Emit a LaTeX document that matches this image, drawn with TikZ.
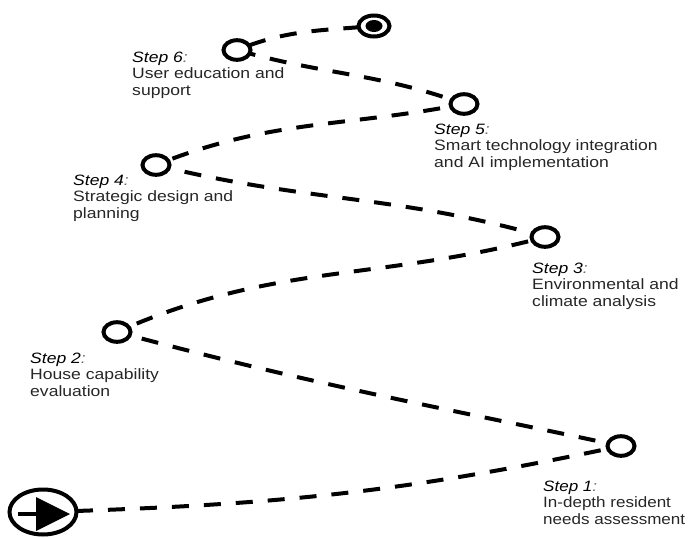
\documentclass[tikz,border=0pt]{standalone}
\usepackage{fontspec}
\setmainfont{Liberation Sans}
\definecolor{txt}{HTML}{262626}
\definecolor{coln}{HTML}{6A6A6A}
\tikzset{
  path/.style={line width=4pt, dash pattern=on 17pt off 15pt},
  lbl/.style={anchor=base west, align=left, inner sep=0pt, text=txt, xscale=1.17,
    font=\fontsize{15}{16.5}\selectfont},
}
\newcommand{\stp}[1]{\textit{\color{black}Step #1}{\color{coln}\textit{:}}}
\begin{document}
\begin{tikzpicture}[x=1pt,y=1pt]
\useasboundingbox (0,0) rectangle (688,-538);
% coordinates
\coordinate (start) at (43,-512);
\coordinate (startE) at (76,-511);
\coordinate (c1) at (621,-446);
\coordinate (c2) at (117,-332);
\coordinate (c3) at (545,-237);
\coordinate (c4) at (156,-165);
\coordinate (c5) at (464,-104);
\coordinate (c6) at (237,-50);
\coordinate (cend) at (374,-26);
% dashed route
\draw[path] (startE) to[out=2,in=192] (c1)
  to[out=168,in=-15] (c2)
  to[out=24,in=195] (c3)
  to[out=164,in=-14] (c4)
  to[out=22,in=191] (c5)
  to[out=160,in=-16] (c6)
  to[out=22,in=185] (cend);
% start symbol
\filldraw[line width=4pt, fill=white] (start) ellipse [x radius=33.5, y radius=22.5];
\draw[line width=4pt] (18,-514) -- (37,-514);
\fill (36,-497) -- (70,-514) -- (36,-531) -- cycle;
% step circles
\foreach \c in {c1,c2,c3,c4,c5,c6}{
  \filldraw[line width=4pt, fill=white] (\c) ellipse [x radius=13.5, y radius=9.8];
}
% end
\filldraw[line width=4pt, fill=white] (cend) ellipse [x radius=15.5, y radius=10.5];
\fill (cend) ellipse [x radius=8.5, y radius=6];
% labels (anchor = baseline of last line)
\node[lbl, xscale=0.97] (t1) at (543,-524) {\stp{1}\\In-depth resident\\needs assessment};
\node[lbl] (t2) at (30,-396) {\stp{2}\\House capability\\evaluation};
\node[lbl] (t3) at (532,-306) {\stp{3}\\Environmental and\\climate analysis};
\node[lbl] (t4) at (73,-218) {\stp{4}\\Strategic design and\\planning};
\node[lbl] (t5) at (434,-167) {\stp{5}\\Smart technology integration\\and AI implementation};
\node[lbl] (t6) at (132,-95) {\stp{6}\\User education and\\support};
\end{tikzpicture}
\end{document}
